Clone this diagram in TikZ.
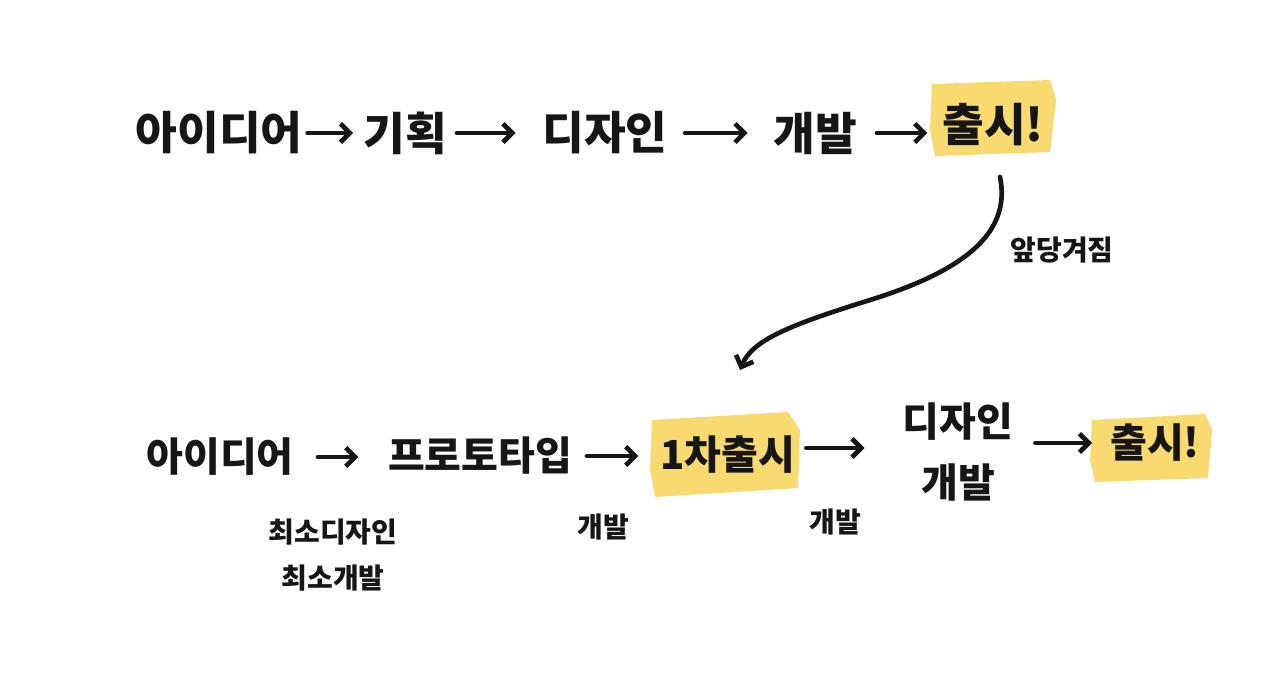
\documentclass[tikz,border=0pt]{standalone}
\usepackage{fontspec}
\newfontfamily\kr{Noto Sans CJK KR}
\usetikzlibrary{arrows.meta}
\definecolor{ink}{HTML}{161616}
\definecolor{hl}{HTML}{F8D660}
\tikzset{
  big/.style={inner sep=0pt, text=ink, font=\kr\bfseries\fontsize{34}{40}\selectfont},
  mid/.style={inner sep=0pt, text=ink, align=center, font=\kr\bfseries\fontsize{30}{46}\selectfont},
  small/.style={inner sep=0pt, text=ink, align=center, font=\kr\bfseries\fontsize{21}{34}\selectfont},
  flow/.style={draw=ink, line width=3.5pt, line cap=round, line join=round,
    -{Straight Barb[length=7pt,width=14pt,line width=3.5pt]}},
  hlbox/.style={fill=hl, draw=none, opacity=0.9}
}
\begin{document}
\begin{tikzpicture}[x=0.75pt,y=-0.75pt]
\useasboundingbox (0,0) rectangle (1280,696);
% highlights
\fill[hlbox] (932,84) -- (1050,80) -- (1056,100) -- (1050,152) -- (935,156) -- (930,130) -- cycle;
\fill[hlbox] (652,420) -- (788,412) -- (800,430) -- (798,488) -- (655,497) -- (650,470) -- cycle;
\fill[hlbox] (1092,420) -- (1205,414) -- (1212,430) -- (1208,478) -- (1095,482) -- (1090,460) -- cycle;
% top row
\node[big] (t1) at (219,133) {아이디어};
\node[big] (t2) at (405,133) {기획};
\node[big] (t3) at (605,133) {디자인};
\node[big] (t4) at (815,133) {개발};
\node[big] (t5) at (993,125) {출시!};
\draw[flow, shorten <=3.75pt, shorten >=7.5pt] (t1.east) -- (t2.west);
\draw[flow, shorten <=7.5pt, shorten >=20pt] (t2.east) -- (t3.west);
\draw[flow, shorten <=13pt, shorten >=19pt] (t3.east) -- (t4.west);
\draw[flow, shorten <=15pt, shorten >=11pt] (t4.east) -- (t5.west |- t4.east);
% bottom row
\node[mid] (b1) at (220,457) {아이디어};
\node[mid] (b2) at (480,456) {프로토타입};
\node[mid] (b3) at (728,455) {1차출시};
\node[mid] (b4) at (958,452) {디자인\\개발};
\node[mid] (b6) at (1155,443) {출시!};
\draw[flow, shorten <=18pt, shorten >=22pt] (b1.east) -- (b2.west |- b1.east);
\draw[flow, shorten <=11pt, shorten >=16.5pt] (b2.east) -- (b3.west |- b2.east);
\draw[flow, shorten <=8pt, shorten >=28.5pt] (b3.east |- 0,448) -- (b4.west |- 0,448);
\draw[flow, shorten <=16.5pt, shorten >=13.5pt] (b4.east |- b6.west) -- (b6.west);
% small labels
\node[small] (s1) at (333,555) {최소디자인\\최소개발};
\node[small] (s2) at (603,527) {개발};
\node[small] (s3) at (835,522) {개발};
\node[small] (l1) at (1062,250) {앞당겨짐};
% curve
\coordinate (cs) at (1000,177);
\coordinate (ce) at (740,370);
\draw[flow] (cs) .. controls (1012,235) and (960,272) .. (870,300) .. controls (790,325) and (752,340) .. (ce);
\end{tikzpicture}
\end{document}
